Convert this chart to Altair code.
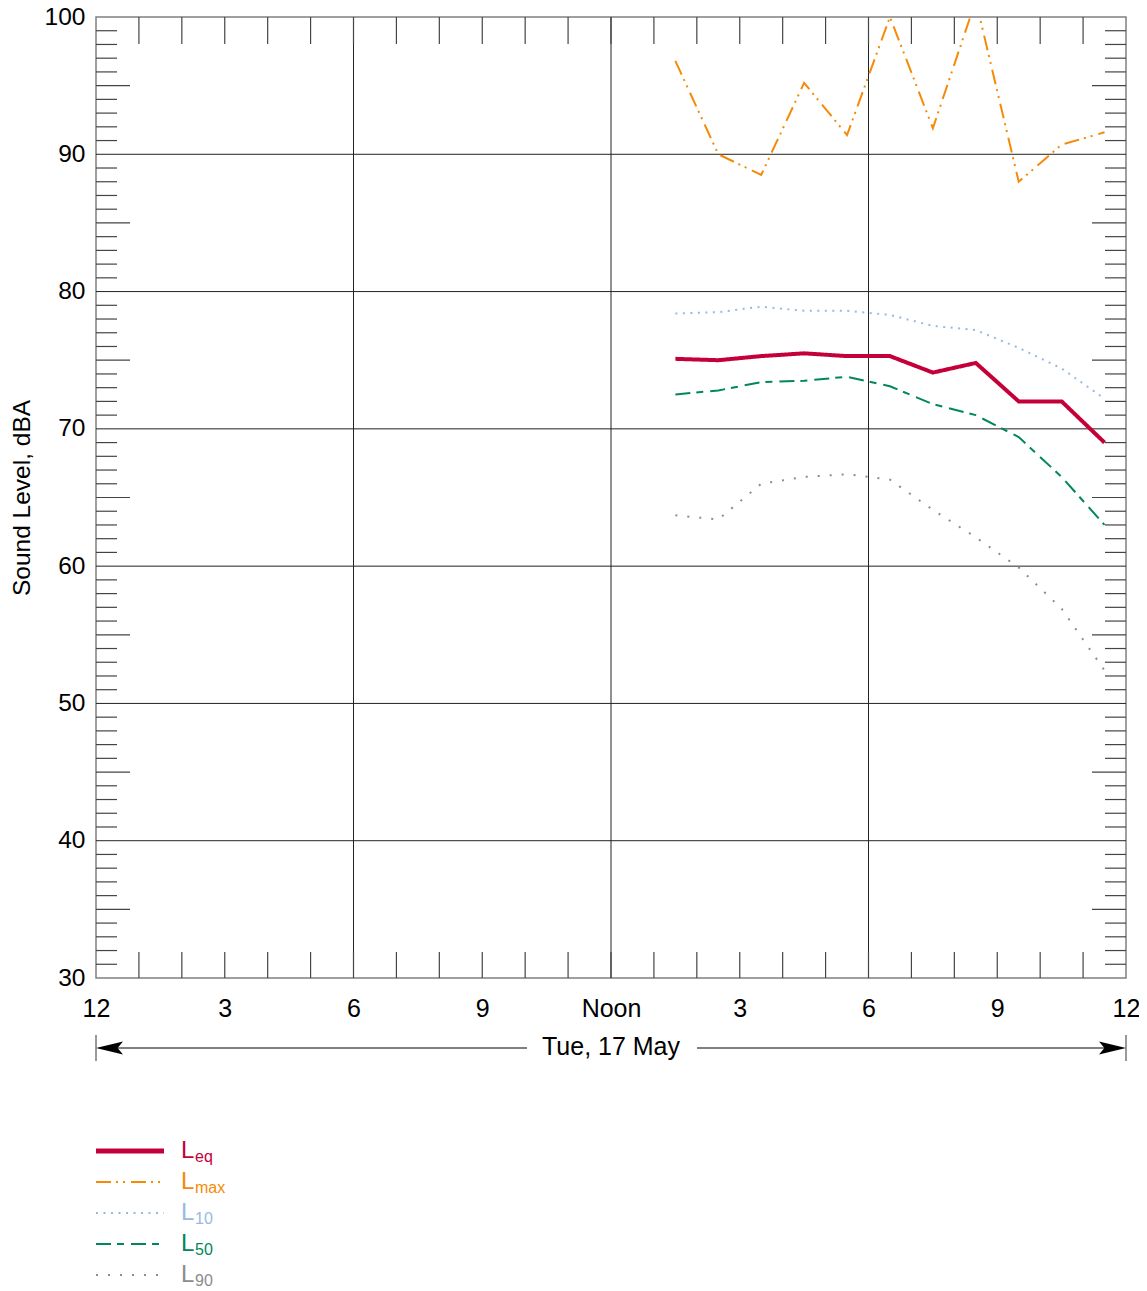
import altair as alt
import pandas as pd

# ---- data ----
hours = [13.5, 14.5, 15.5, 16.5, 17.5, 18.5, 19.5, 20.5, 21.5, 22.5, 23.5]
leq = [75.1, 75.0, 75.3, 75.5, 75.3, 75.3, 74.1, 74.8, 72.0, 72.0, 69.0]
lmax = [96.8, 90.0, 88.5, 95.2, 91.4, 100.0, 91.9, 101.2, 88.0, 90.7, 91.6]
l10 = [78.4, 78.5, 78.9, 78.6, 78.6, 78.3, 77.5, 77.2, 75.9, 74.4, 72.2]
l50 = [72.5, 72.8, 73.4, 73.5, 73.8, 73.1, 71.8, 71.0, 69.4, 66.5, 63.0]
l90 = [63.7, 63.4, 66.0, 66.5, 66.7, 66.3, 64.1, 62.1, 59.9, 56.9, 52.4]

series_names = ["eq", "max", "10", "50", "90"]
series_values = [leq, lmax, l10, l50, l90]
series_colors = ["#c4003a", "#f58a07", "#97bae2", "#00875a", "#8c8c8c"]
series_dash = [[1, 0], [15, 5, 2, 5, 2, 6], [2, 5.5], [15, 6, 7, 7], [2, 10]]
series_width = [4, 2, 2, 2, 2]

x_tick_values = [0, 3, 6, 9, 12, 15, 18, 21, 24]
y_tick_values = [30, 40, 50, 60, 70, 80, 90, 100]
grid_hours = [6, 12, 18]
grid_levels = [40, 50, 60, 70, 80, 90]
minor_hours = list(range(1, 24))
minor_levels = [v for v in range(31, 100) if v % 10 != 0]
date_label = "Tue, 17 May"

W, H = 1030, 961
FONT = "Liberation Sans"
FSX = 25
FSY = 24.5

xscale = alt.Scale(domain=[0, 24], nice=False, zero=False)
yscale = alt.Scale(domain=[30, 100], nice=False, zero=False)
xaxis = alt.Axis(values=x_tick_values, ticks=False, domain=False, grid=False,
                 labelExpr="datum.value == 12 ? 'Noon' : (datum.value % 12 == 0 ? '12' : toString(datum.value % 12))",
                 labelFontSize=FSX, labelFont=FONT, labelColor="black",
                 labelPadding=18, labelFlush=False, labelOverlap=False, title=None)
yaxis = alt.Axis(values=y_tick_values, ticks=False, domain=False, grid=False,
                 labelFontSize=FSY, labelFont=FONT, labelColor="black",
                 labelPadding=11, labelFlush=False, labelOverlap=False,
                 title="Sound Level, dBA", titleFontSize=FSY, titleFont=FONT,
                 titleFontWeight="normal", titleColor="black",
                 titleAngle=270, titleAlign="center", titleBaseline="middle",
                 titleX=-74, titleY=H / 2)


def X(f):
    return alt.X(f, type="quantitative", scale=xscale, axis=xaxis)


def Y(f):
    return alt.Y(f, type="quantitative", scale=yscale, axis=yaxis)


layers = []

# grid lines
layers.append(alt.Chart(pd.DataFrame({"h": grid_hours})).mark_rule(color="#222", strokeWidth=1)
              .encode(x=X("h"), y=alt.value(0), y2=alt.value(H)))
layers.append(alt.Chart(pd.DataFrame({"v": grid_levels})).mark_rule(color="#222", strokeWidth=1)
              .encode(y=Y("v"), x=alt.value(0), x2=alt.value(W)))

# minor ticks
hdf = pd.DataFrame({"h": minor_hours})
layers.append(alt.Chart(hdf).mark_rule(color="#444", strokeWidth=1.2)
              .encode(x=X("h"), y=alt.value(0), y2=alt.value(27)))
layers.append(alt.Chart(hdf).mark_rule(color="#444", strokeWidth=1.2)
              .encode(x=X("h"), y=alt.value(H), y2=alt.value(H - 26)))
short_lv = pd.DataFrame({"v": [v for v in minor_levels if v % 5 != 0]})
long_lv = pd.DataFrame({"v": [v for v in minor_levels if v % 5 == 0]})
for df, ln in [(short_lv, 21), (long_lv, 34)]:
    layers.append(alt.Chart(df).mark_rule(color="#444", strokeWidth=1.2)
                  .encode(y=Y("v"), x=alt.value(0), x2=alt.value(ln)))
    layers.append(alt.Chart(df).mark_rule(color="#444", strokeWidth=1.2)
                  .encode(y=Y("v"), x=alt.value(W), x2=alt.value(W - ln)))

# data series
for name, vals, col, dash, sw in zip(series_names, series_values, series_colors, series_dash, series_width):
    df = pd.DataFrame({"hour": hours, "level": vals})
    layers.append(alt.Chart(df).mark_line(color=col, strokeDash=dash, strokeWidth=sw, clip=True,
                                          strokeCap="butt", strokeJoin="miter")
                  .encode(x=X("hour"), y=Y("level")))

# date arrow
one = pd.DataFrame({"a": [0]})
AY = 1031
layers.append(alt.Chart(one).mark_rule(color="black", strokeWidth=1)
              .encode(x=alt.value(10), x2=alt.value(431), y=alt.value(AY)))
layers.append(alt.Chart(one).mark_rule(color="black", strokeWidth=1)
              .encode(x=alt.value(601), x2=alt.value(W - 10), y=alt.value(AY)))
for xe in [0, W]:
    layers.append(alt.Chart(one).mark_rule(color="#777", strokeWidth=1.5)
                  .encode(x=alt.value(xe), y=alt.value(AY - 13), y2=alt.value(AY + 13)))
layers.append(alt.Chart(one).mark_point(shape="M-1,0L1,-0.48L0.6,0L1,0.48Z", filled=True, opacity=1,
                                        color="black", size=729, strokeWidth=0)
              .encode(x=alt.value(13.5), y=alt.value(AY)))
layers.append(alt.Chart(one).mark_point(shape="M1,0L-1,-0.48L-0.6,0L-1,0.48Z", filled=True, opacity=1,
                                        color="black", size=729, strokeWidth=0)
              .encode(x=alt.value(W - 13.5), y=alt.value(AY)))
layers.append(alt.Chart(pd.DataFrame({"t": [date_label]})).mark_text(
    font=FONT, fontSize=FSX, color="black", align="center", baseline="middle")
    .encode(text="t:N", x=alt.value(515), y=alt.value(AY - 1)))

# legend
for i, (name, col, dash, sw) in enumerate(zip(series_names, series_colors, series_dash, series_width)):
    ly = 1134 + 31 * i
    layers.append(alt.Chart(one).mark_rule(color=col, strokeDash=dash, strokeWidth=(5 if i == 0 else 2),
                                           strokeCap="butt")
                  .encode(x=alt.value(0), x2=alt.value(68), y=alt.value(ly)))
    layers.append(alt.Chart(pd.DataFrame({"t": ["L"]})).mark_text(
        font=FONT, fontSize=24, color=col, align="left", baseline="alphabetic")
        .encode(text="t:N", x=alt.value(85), y=alt.value(ly + 7)))
    layers.append(alt.Chart(pd.DataFrame({"t": [name]})).mark_text(
        font=FONT, fontSize=16, color=col, align="left", baseline="alphabetic")
        .encode(text="t:N", x=alt.value(99), y=alt.value(ly + 11)))

chart = alt.layer(*layers).properties(
    width=W, height=H,
    autosize=alt.AutoSizeParams(type="none"),
    padding={"left": 88, "top": 9, "right": 13, "bottom": 312},
).configure_view(stroke="#808080", strokeWidth=1.5)

chart.save("out.html", embed_options={"renderer": "svg", "actions": False})
